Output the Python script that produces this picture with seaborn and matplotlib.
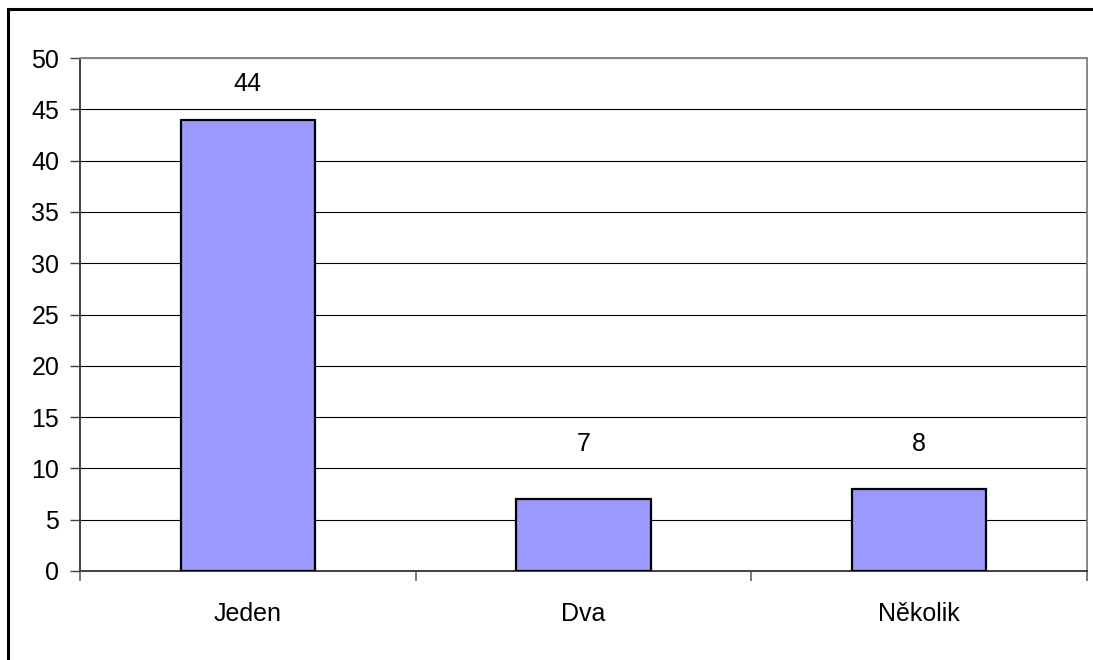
import matplotlib
matplotlib.use("Agg")
import matplotlib.pyplot as plt
from matplotlib.patches import Rectangle
import seaborn as sns
import pandas as pd

categories = ["Jeden", "Dva", "Několik"]
counts = [44, 7, 8]
y_ticks = [0, 5, 10, 15, 20, 25, 30, 35, 40, 45, 50]

df = pd.DataFrame({"kategorie": categories, "pocet": counts})

sns.set_style("white")
plt.rcParams["font.family"] = ["Liberation Sans", "DejaVu Sans"]
plt.rcParams["text.color"] = "black"
plt.rcParams["xtick.color"] = "black"
plt.rcParams["ytick.color"] = "black"

W, H = 1093, 660
fig = plt.figure(figsize=(W / 100, H / 100), dpi=100)
ax = fig.add_axes([80 / W, 1 - 571 / H, (1087 - 80) / W, (571 - 58) / H])

sns.barplot(data=df, x="kategorie", y="pocet", order=categories, ax=ax,
            color="#9999FF", saturation=1, width=0.4,
            edgecolor="black", linewidth=1.6, zorder=3)

ax.set_xlim(-0.5, len(categories) - 0.5)
ax.set_ylim(0, 50)
ax.set_yticks(y_ticks)
ax.yaxis.grid(True, color="black", linewidth=0.8, zorder=0)
ax.set_axisbelow(True)
ax.set_xlabel("")
ax.set_ylabel("")

# category separators on the x axis
ax.set_xticks([i - 0.5 for i in range(len(categories) + 1)], minor=True)
ax.tick_params(axis="x", which="minor", bottom=True, length=7, width=1.2,
               color="#606060", direction="out")
ax.tick_params(axis="x", which="major", bottom=True, length=0, pad=22,
               labelsize=18, labelcolor="black")
ax.tick_params(axis="y", which="major", left=True, length=7, width=1.0,
               color="#404040", direction="out", pad=8, labelsize=18,
               labelcolor="black")

for side in ("left", "bottom"):
    ax.spines[side].set_color("#404040")
    ax.spines[side].set_linewidth(1.4)
for side in ("top", "right"):
    ax.spines[side].set_visible(True)
    ax.spines[side].set_color("#888888")
    ax.spines[side].set_linewidth(1.4)

# value labels above the bars, never lower than the same baseline
for i, v in enumerate(counts):
    ax.text(i, max(v + 3.5, 12.35), str(v), ha="center", va="center",
            fontsize=18, color="black")

# chart frame
fig.add_artist(Rectangle((8 / W, -0.1), 2.0, 1.1 - 9 / H,
                         transform=fig.transFigure, fill=False,
                         edgecolor="black", linewidth=2.2))

fig.savefig("out.png", dpi=100)
